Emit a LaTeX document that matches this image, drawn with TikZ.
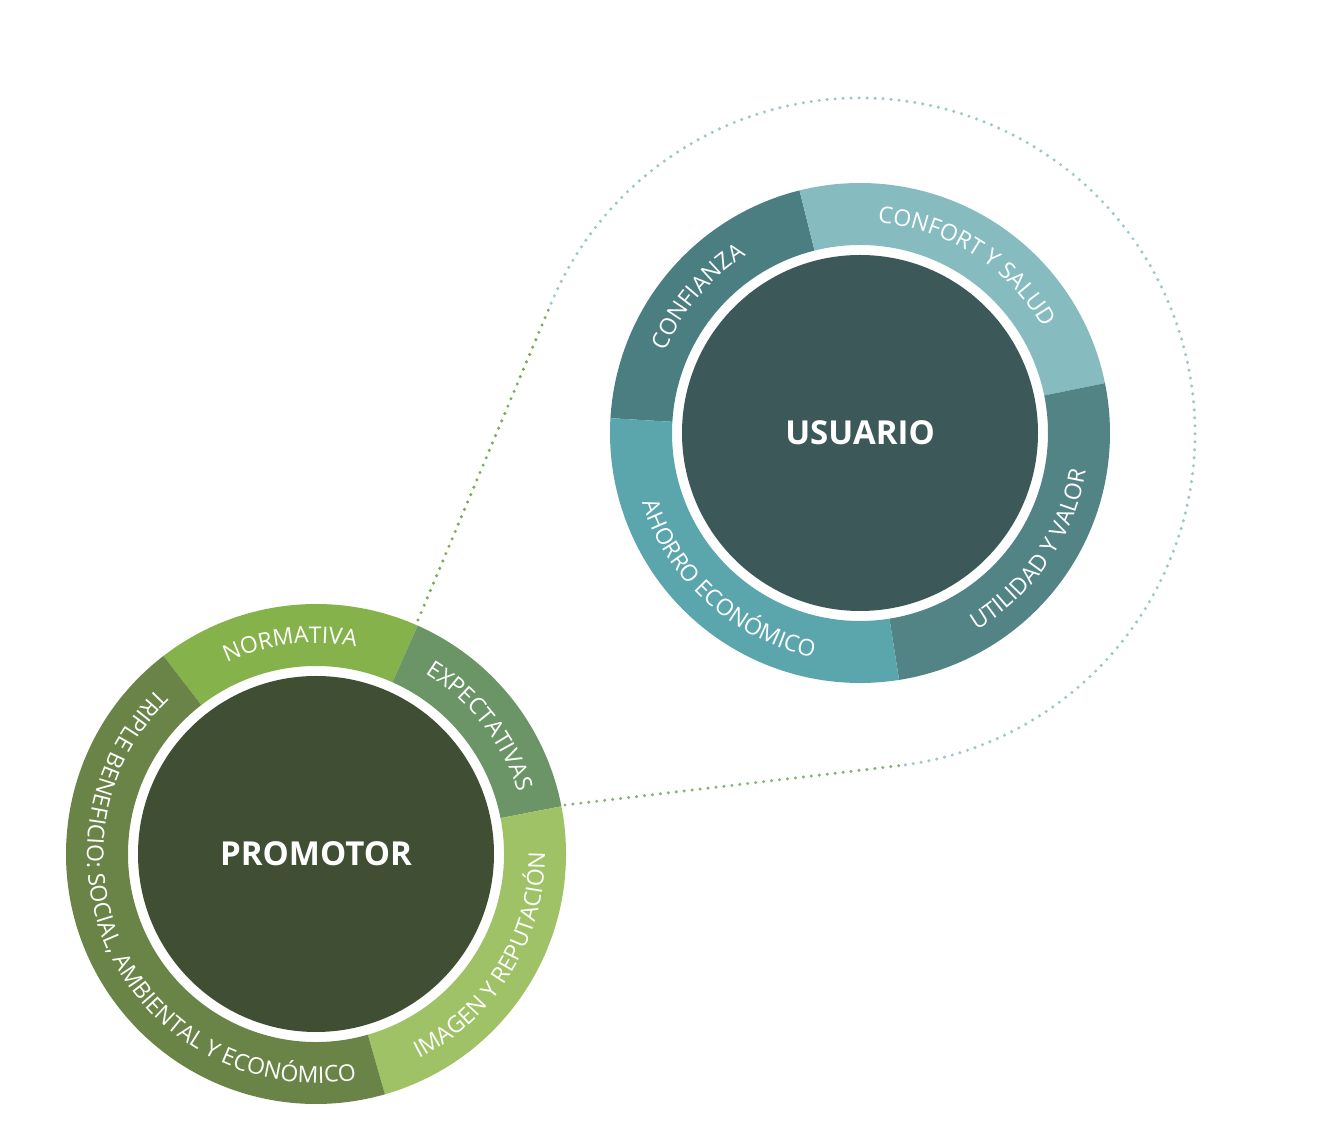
\documentclass[tikz,border=0pt]{standalone}
\usepackage{fontspec}
\setmainfont{Open Sans}
\usetikzlibrary{calc,decorations.text}
\definecolor{pNorm}{HTML}{86B24C}
\definecolor{pExp}{HTML}{6B9567}
\definecolor{pImg}{HTML}{A0C266}
\definecolor{pTrip}{HTML}{6A8447}
\definecolor{pCore}{HTML}{404E33}
\definecolor{uConf}{HTML}{4B7E80}
\definecolor{uConfort}{HTML}{86BCC0}
\definecolor{uUtil}{HTML}{528385}
\definecolor{uAho}{HTML}{5BA6AD}
\definecolor{uCore}{HTML}{3D5858}
\definecolor{dotGreen}{HTML}{7DAA55}
\definecolor{dotTeal}{HTML}{9CC8C8}
\newcommand\ringfont{\fontsize{11.5}{13}\selectfont}
\newcommand\ringseg[4]{\fill[#4] ($(#1)+(#2:250)$) arc[start angle=#2,end angle=#3,radius=250] -- ($(#1)+(#3:188)$) arc[start angle=#3,end angle=#2,radius=188] -- cycle;}
\newcommand\ringtext[5]{\path[decorate,decoration={text along path,text align=center,text color=white,text={|\ringfont|#5}}] ($(#1)+(#2:#4)$) arc[start angle=#2,end angle=#3,radius=#4];}
\tikzset{dotline/.style={line width=1.7pt,dash pattern=on 0pt off 4pt,line cap=round},
corelabel/.style={text=white,font=\bfseries\fontsize{16.5}{18}\selectfont}}
\begin{document}
\begin{tikzpicture}[x=0.5pt,y=0.5pt]
\useasboundingbox (0,0) rectangle (1335,1146);
\coordinate (P) at (316,292);
\coordinate (U) at (860,713);
\coordinate (A) at (418,526);
\coordinate (B) at (565,341);
\coordinate (T1) at ($(U)+(157.2:335)$);
\coordinate (T2) at ($(U)+(-83.2:335)$);
\draw[dotline,dotGreen] (A) -- (T1);
\draw[dotline,dotTeal] (T1) arc[start angle=157.2,end angle=-83.2,radius=335];
\draw[dotline,dotGreen!70!dotTeal] (B) -- (T2);
\ringseg{P}{66}{127.6}{pNorm}
\ringseg{P}{11}{66}{pExp}
\ringseg{P}{-74}{11}{pImg}
\ringseg{P}{127.6}{286}{pTrip}
\fill[pCore] (P) circle[radius=178];
\node[corelabel] (prom) at (P) {PROMOTOR};
\ringtext{P}{125}{69}{211}{NORMATIVA}
\ringtext{P}{64}{12}{211}{EXPECTATIVAS}
\ringtext{P}{-72}{9}{229}{IMAGEN Y REPUTACIÓN}
\ringtext{P}{127}{287}{229}{TRIPLE BENEFICIO: SOCIAL, AMBIENTAL Y ECONÓMICO}
\ringseg{U}{104}{176.6}{uConf}
\ringseg{U}{11.5}{104}{uConfort}
\ringseg{U}{-81}{11.5}{uUtil}
\ringseg{U}{176.6}{279}{uAho}
\fill[uCore] (U) circle[radius=178];
\node[corelabel] (usu) at (U) {USUARIO};
\ringtext{U}{175}{105}{211}{CONFIANZA}
\ringtext{U}{102}{13}{211}{CONFORT Y SALUD}
\ringtext{U}{-79}{10}{229}{UTILIDAD Y VALOR}
\ringtext{U}{178}{278}{229}{AHORRO ECONÓMICO}
\end{tikzpicture}
\end{document}
